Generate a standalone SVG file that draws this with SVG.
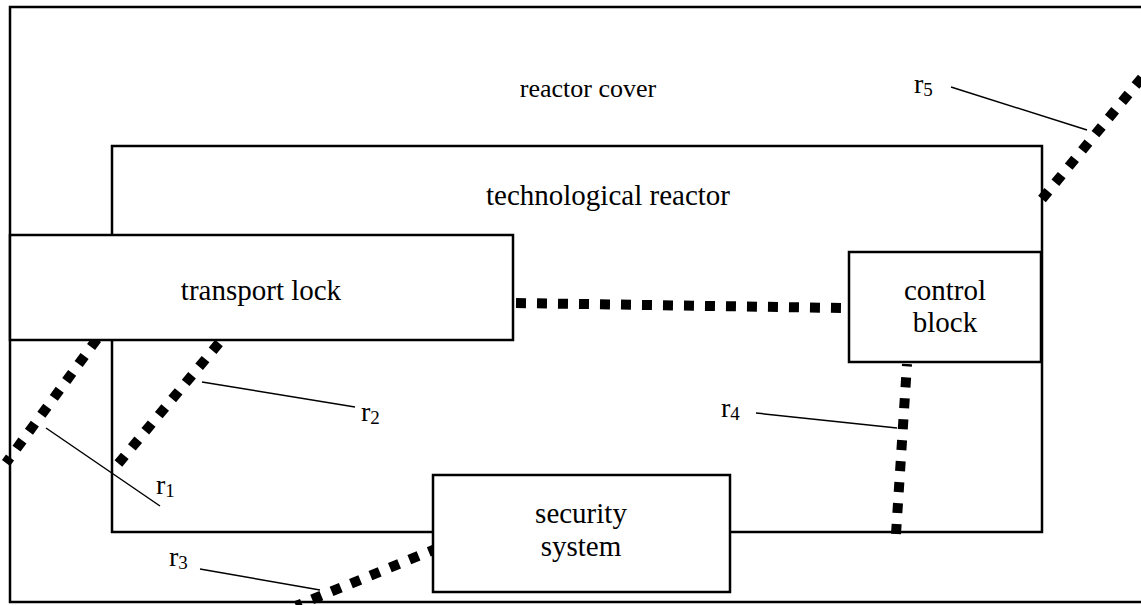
<svg xmlns="http://www.w3.org/2000/svg" width="1141" height="605" viewBox="0 0 1141 605">
<style>
.box{fill:#fff;stroke:#000;stroke-width:2.5}
.t{font-family:"Liberation Serif","Times New Roman",serif;font-size:29px;fill:#000;text-anchor:middle}
.l{font-family:"Liberation Serif","Times New Roman",serif;font-size:28px;fill:#000}
.sub{font-size:19px}
.dot{fill:none;stroke:#000;stroke-width:10;stroke-dasharray:10 11}
.lead{fill:none;stroke:#000;stroke-width:1.5}
</style>
<rect width="1141" height="605" fill="#fff"/>
<g id="reactor-cover">
<rect class="box" x="10" y="7" width="1150" height="595"/>
<text class="t" x="588" y="97" style="font-size:26px">reactor cover</text>
</g>
<g id="technological-reactor">
<rect class="box" x="112" y="146" width="930" height="386"/>
<text class="t" x="608" y="205">technological reactor</text>
</g>
<g id="connectors">
<line class="dot" x1="516" y1="303" x2="843" y2="308"/>
<line class="dot" x1="97" y1="339" x2="6" y2="463"/>
<line class="dot" x1="219" y1="343" x2="118" y2="464"/>
<line class="dot" x1="438" y1="548" x2="296" y2="606"/>
<line class="dot" x1="896" y1="534" x2="907" y2="364"/>
<line class="dot" x1="1042" y1="199" x2="1145" y2="74"/>
<line class="lead" x1="46" y1="428" x2="160" y2="506"/>
<line class="lead" x1="202" y1="382" x2="355" y2="407"/>
<line class="lead" x1="200" y1="569" x2="320" y2="590"/>
<line class="lead" x1="756" y1="413" x2="897" y2="428"/>
<line class="lead" x1="951" y1="87" x2="1087" y2="130"/>
</g>
<g id="transport-lock">
<rect class="box" x="10" y="235" width="503" height="105"/>
<text class="t" x="261" y="300">transport lock</text>
</g>
<g id="control-block">
<rect class="box" x="849" y="252" width="192" height="110"/>
<text class="t" x="945" y="300">control</text>
<text class="t" x="945" y="332">block</text>
</g>
<g id="security-system">
<rect class="box" x="433" y="475" width="297" height="117"/>
<text class="t" x="581" y="523">security</text>
<text class="t" x="581" y="556">system</text>
</g>
<g id="labels">
<text class="l" x="156" y="494">r<tspan class="sub" dy="3">1</tspan></text>
<text class="l" x="361" y="421">r<tspan class="sub" dy="3">2</tspan></text>
<text class="l" x="169" y="566">r<tspan class="sub" dy="3">3</tspan></text>
<text class="l" x="721" y="417">r<tspan class="sub" dy="3">4</tspan></text>
<text class="l" x="914" y="93">r<tspan class="sub" dy="3">5</tspan></text>
</g>
</svg>
